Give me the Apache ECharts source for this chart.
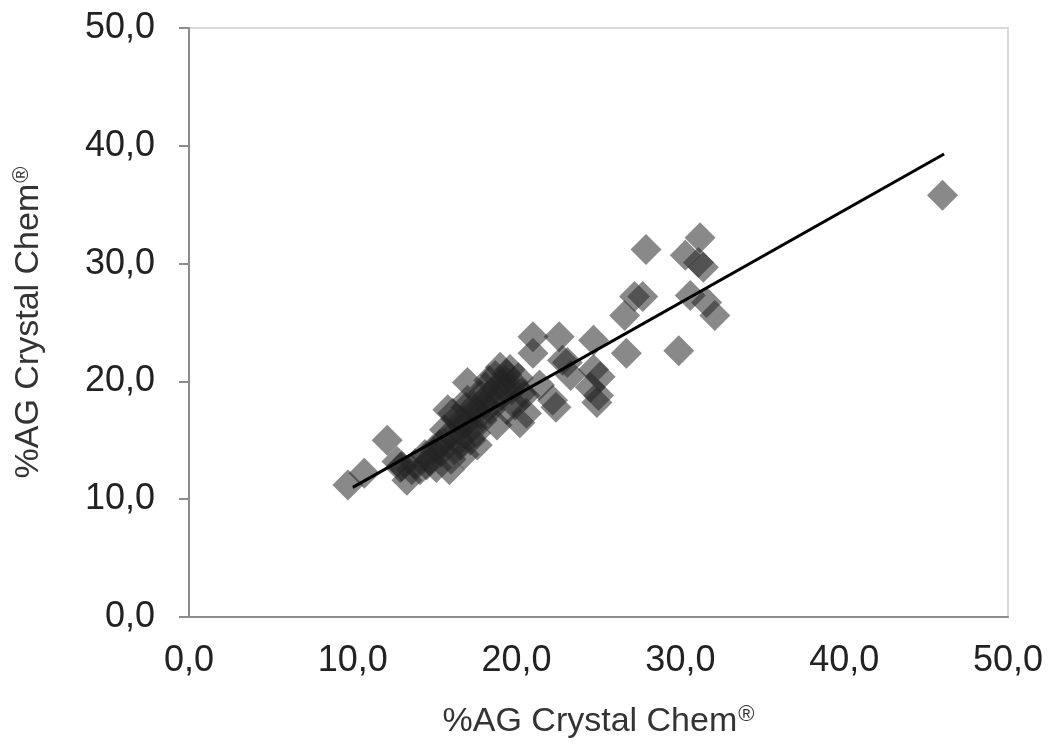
<!DOCTYPE html>
<html lang="en">
<head>
    <meta charset="UTF-8">
    <title>Crystal Chem</title>
    <script src="https://cdn.jsdelivr.net/npm/echarts@6/dist/echarts.min.js"></script>
    <style>
        html, body { margin: 0; padding: 0; background: #fff; }
        #chart { width: 1053px; height: 749px; }
    </style>
</head>
<body>
<div id="chart"></div>
<script type="text/javascript">
    var xVals = [9.7, 10.7, 12.1, 12.7, 12.9, 13.3, 13.6, 14.1, 14.4, 14.7,
        15.1, 15.3, 15.6, 15.8, 15.9, 16.1, 16.2, 16.4, 16.5, 16.7,
        16.8, 17.0, 17.0, 17.2, 17.3, 17.5, 17.6, 17.8, 17.9, 18.2,
        18.3, 18.4, 18.7, 18.8, 19.0, 19.1, 19.3, 19.4, 19.6, 19.7,
        19.9, 20.1, 20.2, 20.5, 20.6, 21.0, 21.0, 21.4, 22.2, 22.4,
        22.6, 22.8, 23.1, 23.3, 24.5, 24.7, 24.7, 24.9, 25.1, 25.0,
        26.6, 26.7, 27.2, 27.7, 27.9, 29.9, 30.3, 30.6, 31.2, 31.1,
        31.4, 31.6, 32.1, 46.0,
        13.0, 13.8, 14.5, 15.0, 15.5, 15.9, 16.3, 16.6, 17.1, 17.4,
        17.8, 18.1, 18.6, 19.0, 19.4, 19.8, 20.3, 16.0, 17.5, 18.5,
        16.9, 14.9, 18.0, 19.2, 16.7, 15.4];
    var yVals = [11.2, 12.2, 15.0, 13.2, 12.7, 11.6, 12.5, 12.5, 13.8, 13.3,
        12.7, 14.6, 15.9, 17.6, 12.5, 17.3, 14.2, 15.9, 15.0, 16.7,
        13.8, 19.9, 18.4, 15.0, 16.1, 17.6, 14.6, 18.8, 16.7, 18.7,
        20.1, 17.6, 20.5, 16.3, 21.2, 18.8, 20.1, 17.6, 21.0, 19.3,
        18.0, 20.3, 16.5, 18.8, 17.3, 23.8, 22.4, 19.7, 18.4, 17.8,
        23.8, 21.8, 21.6, 20.5, 19.5, 23.5, 21.0, 18.2, 20.4, 18.8,
        25.6, 22.4, 27.2, 27.2, 31.2, 22.6, 30.7, 27.3, 32.2, 30.1,
        29.7, 26.7, 25.6, 35.8,
        12.8, 13.0, 12.9, 13.9, 14.8, 15.5, 16.8, 14.6, 16.6, 17.9,
        17.2, 19.5, 18.2, 19.8, 20.6, 19.9, 19.0, 13.4, 15.6, 19.0,
        17.8, 14.2, 18.0, 19.4, 16.2, 14.0];

    // trend line end points
    var trendX = [10.0, 46.1];
    var trendY = [11.0, 39.3];

    var axisTicks = [0, 10, 20, 30, 40, 50];
    var axisName = '%AG Crystal Chem';

    var chart = echarts.init(document.getElementById('chart'));

    var pts = [];
    for (var i = 0; i < xVals.length; i++) {
        pts.push([xVals[i], yVals[i]]);
    }
    var line = [];
    for (var j = 0; j < trendX.length; j++) {
        line.push([trendX[j], trendY[j]]);
    }

    function fmt(v) {
        return v.toFixed(1).replace('.', ',');
    }

    var nameRich = {
        sup: { fontSize: 22, verticalAlign: 'top', padding: [0, 0, 14, 1], color: '#333' }
    };

    var option = {
        animation: false,
        textStyle: { fontFamily: '"Liberation Sans", Arial, sans-serif' },
        grid: {
            left: 189, top: 28, right: 45, bottom: 132,
            show: true, borderColor: '#d9d9d9', borderWidth: 2
        },
        xAxis: {
            type: 'value',
            min: axisTicks[0], max: axisTicks[axisTicks.length - 1], interval: 10,
            name: axisName + '{sup|®}',
            nameLocation: 'middle',
            nameGap: 87,
            nameTextStyle: { fontSize: 34, color: '#333', rich: nameRich },
            axisLine: { show: true, lineStyle: { color: '#8c8c8c', width: 2 } },
            axisTick: { show: false },
            splitLine: { show: false },
            axisLabel: { fontSize: 36, color: '#222', margin: 26, formatter: fmt }
        },
        yAxis: {
            type: 'value',
            min: axisTicks[0], max: axisTicks[axisTicks.length - 1], interval: 10,
            name: axisName + '{sup|®}',
            nameLocation: 'middle',
            nameGap: 142,
            nameTextStyle: { fontSize: 34, color: '#333', rich: nameRich },
            axisLine: { show: true, lineStyle: { color: '#8c8c8c', width: 2 } },
            axisTick: { show: true, inside: false, length: 10, lineStyle: { color: '#8c8c8c', width: 2 } },
            splitLine: { show: false },
            axisLabel: { fontSize: 36, color: '#222', margin: 34, formatter: fmt }
        },
        series: [
            {
                type: 'scatter',
                symbol: 'diamond',
                symbolSize: 31,
                data: pts,
                itemStyle: { color: 'rgba(35,35,35,0.67)' }
            },
            {
                type: 'line',
                data: line,
                showSymbol: false,
                symbol: 'none',
                lineStyle: { color: '#000', width: 3 },
                z: 3
            }
        ]
    };

    chart.setOption(option);
</script>
</body>
</html>
